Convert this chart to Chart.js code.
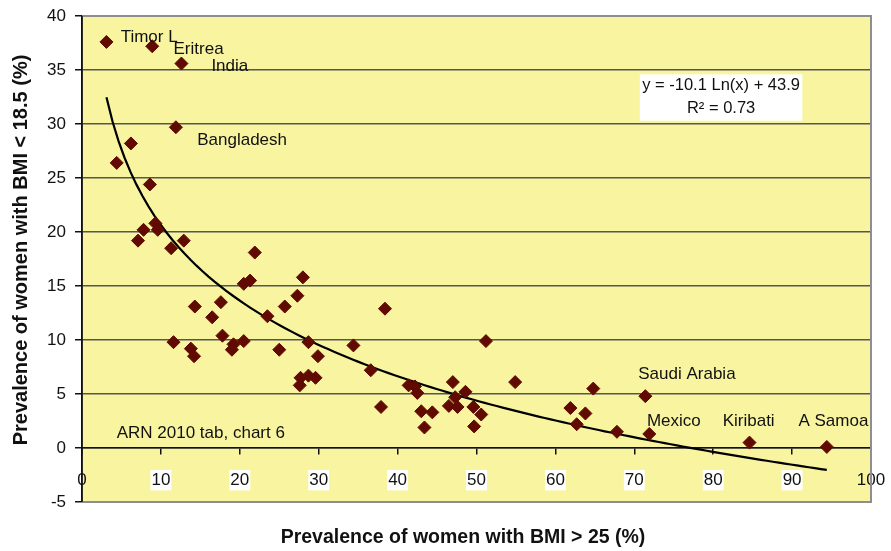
<!DOCTYPE html>
<html>
<head>
<meta charset="utf-8">
<script src="https://cdn.jsdelivr.net/npm/chart.js@4/dist/chart.umd.min.js"></script>
<style>
    html, body { margin: 0; padding: 0; background: #fff; }
    #wrap { width: 891px; height: 551px; }
</style>
</head>
<body>
<div id="wrap"><canvas id="bmiChart"></canvas></div>
<script>
// Prevalence of women with BMI > 25 (%) per country
const bmiOver25 = [
    3.1, 8.9, 12.6, 11.9, 6.2, 4.4, 8.6, 9.3, 7.8, 9.6,
    7.1, 12.9, 11.3, 21.9, 20.5, 21.3, 28.0, 27.3, 14.3, 17.6,
    25.7, 16.5, 23.5, 17.8, 11.6, 19.2, 19.0, 20.5, 13.8, 14.2,
    25.0, 28.7, 29.9, 34.4, 27.7, 28.7, 29.6, 27.6, 36.6, 37.9,
    38.4, 51.2, 54.9, 47.0, 41.4, 42.2, 42.5, 48.6, 47.3, 46.5,
    47.6, 49.6, 43.0, 44.4, 50.6, 43.4, 49.7, 64.8, 61.9, 63.8,
    62.7, 67.8, 71.4, 71.9, 84.6, 94.4
];
// Prevalence of women with BMI < 18.5 (%), same order
const bmiUnder18 = [
    37.6, 37.2, 35.6, 29.7, 28.2, 26.4, 24.4, 20.8, 20.2, 20.2,
    19.2, 19.2, 18.5, 18.1, 15.2, 15.5, 15.8, 14.1, 13.1, 13.5,
    13.1, 12.1, 12.2, 10.4, 9.8, 9.6, 9.1, 9.9, 9.2, 8.5,
    9.1, 9.8, 8.5, 9.5, 6.5, 6.7, 6.5, 5.8, 7.2, 3.8,
    12.9, 9.9, 6.1, 6.1, 5.8, 5.7, 5.1, 5.2, 4.7, 3.9,
    3.8, 3.8, 3.4, 3.3, 3.1, 1.9, 2.0, 5.5, 3.7, 3.2,
    2.2, 1.5, 4.8, 1.3, 0.5, 0.1
];

// logarithmic trend line shown on the chart: y = a Ln(x) + b
const trendA = -10.1;
const trendB = 43.9;
const trendSteps = 120;

// country labels (text anchored at its left/middle, data units)
const labelNames = ['Timor L', 'Eritrea', 'India', 'Bangladesh', 'Saudi Arabia', 'Mexico', 'Kiribati', 'A Samoa', 'ARN 2010 tab, chart 6'];
const labelX = [4.9, 11.6, 16.4, 14.6, 70.5, 71.6, 81.2, 90.8, 4.4];
const labelY = [38.0, 36.9, 35.3, 28.5, 6.8, 2.5, 2.5, 2.5, 1.4];

const xMin = 0, xMax = 100, xStep = 10;
const yMin = -5, yMax = 40, yStep = 5;

const xTitle = 'Prevalence of women with BMI > 25 (%)';
const yTitle = 'Prevalence of women with BMI < 18.5 (%)';

const FONT = "'Liberation Sans', Arial, Helvetica, sans-serif";

const scatterPoints = bmiOver25.map((x, i) => ({ x: x, y: bmiUnder18[i] }));

const loX = Math.min(...bmiOver25);
const hiX = Math.max(...bmiOver25);
const trendPoints = [];
for (let i = 0; i <= trendSteps; i++) {
    const x = loX + (hiX - loX) * i / trendSteps;
    trendPoints.push({ x: x, y: trendA * Math.log(x) + trendB });
}

// yellow plot area, grey frame, labels, axis titles and the equation box
const decorPlugin = {
    id: 'decor',
    beforeDraw(chart) {
        const { ctx, chartArea: a } = chart;
        ctx.save();
        ctx.fillStyle = '#F8F4A0';
        ctx.fillRect(a.left, a.top, a.right - a.left, a.bottom - a.top);
        ctx.restore();
    },
    afterDatasetsDraw(chart) {
        const { ctx, scales } = chart;
        const xs = scales.x, ys = scales.y;
        ctx.save();
        ctx.fillStyle = '#111';
        ctx.font = '17px ' + FONT;
        ctx.textBaseline = 'middle';
        ctx.textAlign = 'left';
        labelNames.forEach((name, i) => {
            ctx.fillText(name, xs.getPixelForValue(labelX[i]), ys.getPixelForValue(labelY[i]));
        });

        // equation box
        const bx1 = xs.getPixelForValue(70.7), bx2 = xs.getPixelForValue(91.3);
        const by1 = ys.getPixelForValue(34.6), by2 = ys.getPixelForValue(30.3);
        ctx.fillStyle = '#fff';
        ctx.fillRect(bx1, by1, bx2 - bx1, by2 - by1);
        ctx.fillStyle = '#111';
        ctx.textAlign = 'center';
        ctx.font = '16.5px ' + FONT;
        const cx = (bx1 + bx2) / 2;
        ctx.fillText('y = -10.1 Ln(x) + 43.9', cx, by1 + 11);
        ctx.fillText('R\u00B2 = 0.73', cx, by1 + 34);
        ctx.restore();
    },
    afterDraw(chart) {
        const { ctx, chartArea: a } = chart;
        ctx.save();
        ctx.strokeStyle = '#8E8E8E';
        ctx.lineWidth = 2;
        ctx.beginPath();
        ctx.moveTo(a.left, a.top);
        ctx.lineTo(a.right, a.top);
        ctx.lineTo(a.right, a.bottom);
        ctx.lineTo(a.left, a.bottom);
        ctx.stroke();
        ctx.strokeStyle = '#111';
        ctx.lineWidth = 1.5;
        ctx.beginPath();
        ctx.moveTo(a.left, a.top);
        ctx.lineTo(a.left, a.bottom);
        ctx.stroke();

        // axis titles
        ctx.fillStyle = '#111';
        ctx.font = 'bold 19.5px ' + FONT;
        ctx.textAlign = 'center';
        ctx.textBaseline = 'middle';
        ctx.fillText(xTitle, 463, 538);
        ctx.translate(21, 250);
        ctx.rotate(-Math.PI / 2);
        ctx.font = 'bold 20px ' + FONT;
        ctx.fillText(yTitle, 0, 0);
        ctx.restore();
    }
};

const ctx = document.getElementById('bmiChart').getContext('2d');
new Chart(ctx, {
    type: 'scatter',
    data: {
        datasets: [
            {
                label: 'Countries',
                data: scatterPoints,
                pointStyle: 'rectRot',
                pointRadius: 6.5,
                pointHoverRadius: 6.5,
                backgroundColor: '#600A02',
                borderColor: '#600A02',
                borderWidth: 1
            },
            {
                label: 'Trend',
                type: 'line',
                data: trendPoints,
                borderColor: '#000',
                borderWidth: 2.2,
                pointRadius: 0,
                fill: false,
                tension: 0
            }
        ]
    },
    options: {
        responsive: true,
        maintainAspectRatio: false,
        animation: false,
        layout: {
            padding: { left: 0, right: 20, top: 16, bottom: 49 }
        },
        plugins: {
            legend: { display: false },
            tooltip: { enabled: false },
            title: { display: false }
        },
        scales: {
            x: {
                type: 'linear',
                min: xMin,
                max: xMax,
                position: { y: 0 },
                afterFit(scale) {
                    scale.height = 22;
                    scale.paddingLeft = 0;
                    scale.paddingRight = 0;
                },
                ticks: {
                    stepSize: xStep,
                    color: '#111',
                    font: { family: FONT, size: 17 },
                    padding: 16,
                    showLabelBackdrop: true,
                    backdropColor: c => (c.index > 0 && c.index < 10) ? '#fff' : 'rgba(0,0,0,0)',
                    backdropPadding: { x: 1, y: 0 }
                },
                grid: {
                    drawOnChartArea: false,
                    drawTicks: true,
                    tickLength: 6,
                    color: '#111',
                    lineWidth: 1.5
                },
                border: { color: '#111', width: 1.5 }
            },
            y: {
                type: 'linear',
                min: yMin,
                max: yMax,
                position: 'left',
                afterFit(scale) {
                    scale.width = 82;
                    scale.paddingTop = 0;
                    scale.paddingBottom = 0;
                },
                ticks: {
                    stepSize: yStep,
                    color: '#111',
                    font: { family: FONT, size: 17 },
                    padding: 9
                },
                grid: {
                    color: '#555',
                    lineWidth: 1.5,
                    tickLength: 7,
                    tickColor: '#111'
                },
                border: { color: '#111', width: 1.5 }
            }
        }
    },
    plugins: [decorPlugin]
});
</script>
</body>
</html>
